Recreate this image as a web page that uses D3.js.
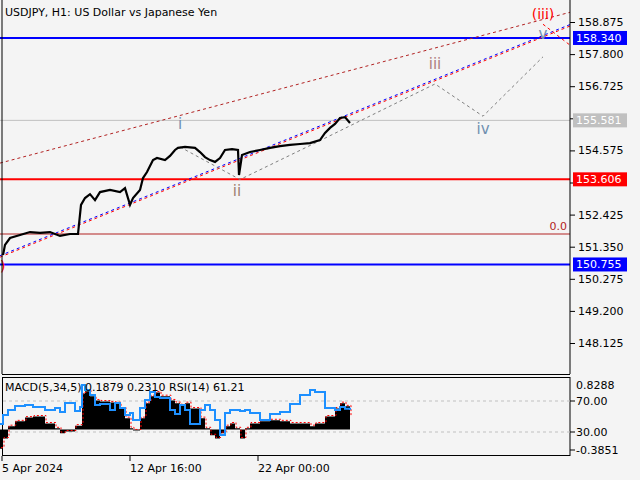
<!DOCTYPE html>
<html>
<head>
<script src="https://cdn.jsdelivr.net/npm/d3@7"></script>
<style>
body{margin:0;background:#f4f4f4;}
text{font-family:"DejaVu Sans",sans-serif;font-size:11px;}
</style>
</head>
<body>
<script>
// hourly bar index (x/2 of the original pixel position) and closes
var barIdx = [1.5,2.5,5,10,15,20,25,30,35,39,40.5,42.5,45,47.5,50,55,60,62.5,65,66.5,70,71.5,73.5,76.5,78.5,82.5,85,87.5,89,92.5,97.5,100,102.5,105,107.5,110,112.5,116,119,119.5,121,125,130,135,140,145,150,155,160,162.5,165,167.5,170,172.5,175];
var close = [151.07,151.41,151.64,151.74,151.84,151.81,151.84,151.71,151.775,151.775,152.75,152.98,153.11,152.91,153.18,153.25,153.18,153.31,152.75,152.98,153.25,153.65,153.85,154.25,154.32,154.25,154.39,154.59,154.66,154.69,154.66,154.52,154.35,154.25,154.19,154.32,154.59,154.62,154.59,153.75,154.42,154.52,154.59,154.66,154.72,154.76,154.79,154.82,154.92,155.16,155.33,155.46,155.66,155.69,155.49];

var oscIdx = [0,1.5,4,7.5,12.5,16.5,22.5,27.5,30,32.5,37.5,40,41,42.5,45,47.5,50,55,57.5,60,62.5,65,66.5,70,72.5,75,77.5,80,85,87.5,90,92.5,95,100,102.5,105,107.5,110,112.5,115,117.5,120,122.5,125,130,135,140,145,150,155,157.5,162.5,167.5,170,172.5,175];
var macd = [-0.36,-0.17,0.06,0.15,0.22,0.24,0.11,0.02,-0.07,-0.04,0.07,0.07,0.67,0.71,0.62,0.54,0.52,0.50,0.49,0.39,0.21,0.02,-0.02,0.21,0.49,0.62,0.69,0.62,0.54,0.49,0.45,0.49,0.39,0.21,0.02,-0.11,-0.17,-0.07,0.06,0.11,0.02,-0.17,0.02,0.11,0.15,0.17,0.15,0.11,0.11,0.06,0.11,0.24,0.39,0.49,0.43,0.24];
var rsi = [40.3,51.9,58.4,63.5,64.8,62.3,58.4,61,55.8,67.4,57.1,62.3,90.6,84.2,77.7,64.8,66.1,58.4,67.4,61,51.9,54.5,45.5,61,71.3,81.6,75.2,73.9,58.4,53.2,64.8,58.4,40.3,58.4,64.8,58.4,45.5,26.1,54.5,58.4,58.4,57.1,58.4,54.5,45.5,53.2,55.8,66.1,77.7,84.2,81.6,61,58.4,62.3,60,58.4];

var priceTicks = [158.875,157.800,156.725,155.650,154.575,153.500,152.425,151.350,150.275,149.200,148.125];
var hiddenTicks = [155.650,153.500]; // covered by level boxes
var timeLabels = ["5 Apr 2024","12 Apr 16:00","22 Apr 00:00"];
var timeIdx = [1,65,129];

var levels = [
  {v:155.581, c:"#c0c0c0", w:1, label:true},
  {v:158.340, c:"#0000ff", w:2, label:true},
  {v:153.606, c:"#ff0000", w:2, label:true},
  {v:151.775, c:"#b22222", w:1, label:false},
  {v:150.755, c:"#0000ff", w:2, label:true}
];
// wave path (bar index, price) and labels
var waveIdx = [90,120,157.5,217.5,241.5,271.5];
var wavePrice = [154.69,153.60,154.82,156.80,155.72,157.71];
var waveLabels = [
  {t:"i",i:90,p:155.30,c:"#7090b0"},
  {t:"ii",i:118.5,p:153.05,c:"#a08070"},
  {t:"iii",i:217.5,p:157.3,c:"#b08080"},
  {t:"iv",i:241.5,p:155.12,c:"#7090b0"},
  {t:"v",i:271.5,p:158.3,c:"#7090b0"}
];

var W = 640, H = 480, pr = 570;
var svg = d3.select("body").append("svg").attr("width",W).attr("height",H);
svg.append("rect").attr("width",W).attr("height",H).attr("fill","#f4f4f4");

var x = d3.scaleLinear().domain([0,285]).range([0,pr]);
var y = d3.scaleLinear().domain([148.125,158.875]).range([343,22]);
var yM = d3.scaleLinear().domain([-0.3851,0.8288]).range([450,385]);
var yR = d3.scaleLinear().domain([30,70]).range([432,401]);

var main = svg.append("g");
main.append("defs").append("clipPath").attr("id","cm").append("rect").attr("x",0).attr("y",0).attr("width",pr).attr("height",374);
var mc = main.append("g").attr("clip-path","url(#cm)");

levels.forEach(function(l){
  mc.append("line").attr("x1",0).attr("x2",pr).attr("y1",y(l.v)).attr("y2",y(l.v)).attr("stroke",l.c).attr("stroke-width",l.w);
});
mc.append("text").attr("x",567).attr("y",y(151.775)-4).attr("text-anchor","end").attr("fill","#b22222").text("0.0");

// channel lines
function tl(i0,p0,i1,p1,col,dash,off){
  mc.append("line").attr("x1",x(i0)).attr("y1",y(p0)+(off||0)).attr("x2",x(i1)).attr("y2",y(p1)+(off||0))
    .attr("stroke",col).attr("stroke-dasharray",dash).attr("stroke-width",1);
}
tl(0,154.15,285,159.2,"#b22222","3,3");
tl(0,151.05,285,158.79,"#0000ff","3,3");
tl(0,151.05,285,158.79,"#ff0000","3,3",1.5);
tl(271.5,158.8,285,158.1,"#ff0000","3,3");

var pts = waveIdx.map(function(d,i){return [x(d),y(wavePrice[i])];});
mc.append("path").attr("d",d3.line()(pts)).attr("fill","none").attr("stroke","#808080").attr("stroke-dasharray","3,3");

mc.append("path").datum(barIdx).attr("fill","none").attr("stroke","#000").attr("stroke-width",2.2)
  .attr("d",d3.line().x(function(d){return x(d);}).y(function(d,i){return y(close[i]);}));

waveLabels.forEach(function(l){
  mc.append("text").attr("x",x(l.i)).attr("y",y(l.p)).attr("text-anchor","middle").attr("fill",l.c).style("font-size","15px").text(l.t);
});
mc.append("text").attr("x",x(271.5)).attr("y",y(158.875)-3).attr("text-anchor","middle").attr("fill","#ff0000").style("font-size","14px").text("(iii)");
mc.append("text").attr("x",0).attr("y",y(150.53)).attr("fill","#ff0000").style("font-size","14px").text(")");

main.append("text").attr("x",5).attr("y",16).attr("fill","#000").text("USDJPY, H1:  US Dollar vs Japanese Yen");

// right axis
svg.append("g").attr("transform","translate("+pr+",0)")
  .call(d3.axisRight(y).tickValues(priceTicks).tickSize(5).tickFormat(function(d){return hiddenTicks.indexOf(d)>=0?"":d3.format(".3f")(d);}))
  .call(function(g){g.select(".domain").remove();g.selectAll("text").attr("fill","#000").style("font-size","11px");});
levels.filter(function(l){return l.label;}).forEach(function(l){
  svg.append("rect").attr("x",pr+3).attr("y",y(l.v)-7).attr("width",54).attr("height",14).attr("fill",l.c);
  svg.append("text").attr("x",pr+6).attr("y",y(l.v)+4).attr("fill","#fff").text(l.v.toFixed(3));
});

// frames
svg.append("line").attr("x1",2).attr("x2",2).attr("y1",0).attr("y2",374).attr("stroke","#000");
svg.append("line").attr("x1",pr).attr("x2",pr).attr("y1",0).attr("y2",374).attr("stroke","#000");
svg.append("line").attr("x1",2).attr("x2",pr).attr("y1",374.5).attr("y2",374.5).attr("stroke","#000");
svg.append("rect").attr("x",2.5).attr("y",377.5).attr("width",pr-2.5).attr("height",78).attr("fill","none").attr("stroke","#000");

// oscillator panel
var osc = svg.append("g");
[70,30].forEach(function(v){
  osc.append("line").attr("x1",3).attr("x2",pr).attr("y1",yR(v)).attr("y2",yR(v)).attr("stroke","#c0c0c0").attr("stroke-dasharray","3,3");
});
osc.append("path").datum(oscIdx).attr("fill","#000")
  .attr("d",d3.area().curve(d3.curveStepAfter).x(function(d){return x(d);}).y0(yM(0)).y1(function(d,i){return yM(macd[i]);}));
osc.append("path").datum(oscIdx).attr("fill","none").attr("stroke","#ff0000").attr("stroke-dasharray","2,2")
  .attr("d",d3.line().curve(d3.curveStepAfter).x(function(d){return x(d)+1;}).y(function(d,i){return yM(macd[i])-1;}));
osc.append("path").datum(oscIdx).attr("fill","none").attr("stroke","#1e90ff").attr("stroke-width",2)
  .attr("d",d3.line().curve(d3.curveStepAfter).x(function(d){return x(d);}).y(function(d,i){return yR(rsi[i]);}));
osc.append("text").attr("x",5).attr("y",391).attr("fill","#000").text("MACD(5,34,5) 0.1879 0.2310 RSI(14) 61.21");

var oscTicks = [{y:yM(0.8288),t:"0.8288",tick:false},{y:yR(70),t:"70.00",tick:true},{y:yR(30),t:"30.00",tick:true},{y:yM(-0.3851),t:"-0.3851",tick:true}];
oscTicks.forEach(function(o){
  if(o.tick) svg.append("line").attr("x1",pr).attr("x2",pr+5).attr("y1",o.y).attr("y2",o.y).attr("stroke","#000");
  svg.append("text").attr("x",pr+6).attr("y",o.y+4).attr("fill","#000").text(o.t);
});

// time axis
timeIdx.forEach(function(d,i){
  svg.append("line").attr("x1",x(d)).attr("x2",x(d)).attr("y1",456).attr("y2",461).attr("stroke","#000");
  svg.append("text").attr("x",x(d)).attr("y",472).attr("fill","#000").text(timeLabels[i]);
});
</script>
</body>
</html>
